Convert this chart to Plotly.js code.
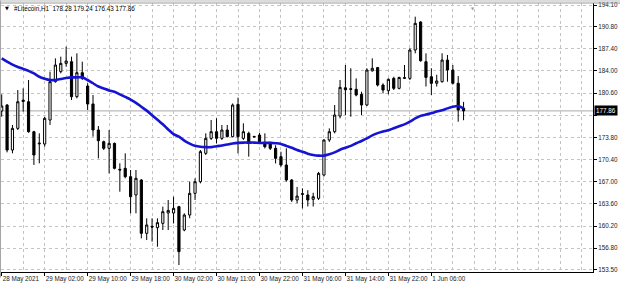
<!DOCTYPE html>
<html><head><meta charset="utf-8">
<script src="https://cdn.plot.ly/plotly-3.0.1.min.js"></script>
<style>html,body{margin:0;padding:0;background:#fff;overflow:hidden}#chart{width:620px;height:287px}</style>
</head><body><div id="chart"></div>
<script>
const symbol = '#Litecoin,H1';
const headerOHLC = [178.28, 179.24, 176.43, 177.86];
const lastPrice = 177.86;

const open = [177.84,178.76,171.86,175.18,179.30,179.27,174.67,172.80,172.78,176.46,
  182.34,183.88,185.15,185.41,180.04,183.72,181.68,178.92,174.93,173.14,
  172.12,172.88,168.90,169.05,167.77,164.96,167.26,159.08,160.15,159.95,
  160.61,162.20,162.20,163.17,159.59,161.89,165.21,167.00,171.35,173.65,
  174.67,173.65,174.93,173.91,178.86,173.65,174.42,173.95,174.16,172.98,
  172.98,172.12,170.84,169.56,167.26,164.19,165.05,164.96,164.30,164.45,
  168.02,173.40,174.67,177.07,181.40,181.15,181.17,180.40,178.76,184.00,
  184.50,181.83,180.96,182.85,181.32,182.85,182.85,187.20,191.50,185.41,
  183.10,182.10,182.34,185.66,184.13,182.10,178.28];
const high = [180.40,178.90,175.70,181.06,181.32,182.60,174.80,174.42,176.97,183.88,
  185.92,186.18,187.71,186.18,186.69,185.41,182.09,180.30,175.54,173.30,
  174.93,173.00,169.82,171.35,168.79,168.79,167.40,161.38,161.38,161.38,
  163.17,164.19,164.70,163.30,162.15,167.00,167.52,171.86,174.42,176.46,
  176.72,175.70,175.70,179.00,179.89,175.95,174.67,174.00,174.50,174.42,
  173.14,172.60,171.60,172.12,167.40,166.20,165.98,165.70,165.30,168.50,
  173.50,175.18,178.76,182.60,184.90,184.40,182.85,180.80,184.40,185.92,
  184.60,182.09,182.85,183.10,183.10,184.90,187.45,192.31,191.60,186.69,
  184.40,183.40,186.69,186.43,184.90,183.20,179.24];
const low = [176.97,171.50,171.35,174.93,177.74,174.50,169.56,169.82,172.37,175.70,
  182.20,183.62,184.64,179.53,179.78,182.60,178.00,173.91,170.58,171.86,
  168.28,168.90,165.47,167.52,162.15,162.15,158.31,158.06,157.80,157.03,
  159.59,159.59,160.60,154.22,159.40,161.40,164.19,166.75,171.10,173.40,
  172.88,173.40,173.80,173.80,171.35,173.40,170.84,173.80,172.88,172.10,
  171.86,169.80,169.30,167.00,163.90,163.70,162.90,163.20,163.20,164.20,
  167.80,173.10,174.42,176.72,177.23,176.97,180.10,177.23,178.60,183.90,
  181.60,180.55,180.40,181.06,181.17,182.75,182.60,186.69,185.40,181.60,
  180.30,181.60,182.20,182.34,181.90,176.20,176.43];
const close = [178.61,171.86,175.18,179.27,179.50,174.67,171.09,172.90,176.72,182.34,
  184.90,185.15,185.51,180.04,183.72,182.85,178.92,174.93,173.29,172.12,
  172.88,169.05,168.80,167.77,164.70,167.52,159.08,160.36,160.05,160.72,
  162.40,162.60,162.91,156.27,161.89,165.21,167.00,171.61,173.65,174.67,
  173.65,174.93,173.91,178.76,173.91,174.67,172.88,173.88,173.14,172.37,
  172.12,170.58,169.56,167.26,164.19,164.80,165.15,164.19,164.70,168.28,
  173.40,174.67,177.23,181.47,181.10,181.25,180.30,178.76,184.13,184.40,
  181.83,181.06,182.70,181.32,182.99,182.95,187.20,191.29,185.56,183.00,
  182.09,182.45,185.66,184.13,182.10,178.00,177.86];
const movingAverage = [185.9,185.4,184.95,184.6,184.3,184.0,183.6,183.1,182.8,182.6,
  182.6,182.75,182.9,183.0,183.0,183.0,182.6,182.1,181.6,181.3,
  181.0,180.8,180.4,180.0,179.6,179.1,178.5,177.9,177.2,176.5,
  175.8,175.0,174.3,173.9,173.3,172.85,172.5,172.35,172.3,172.3,
  172.45,172.55,172.7,172.85,172.95,173.0,173.0,173.0,172.95,172.95,
  172.95,172.9,172.8,172.5,172.2,171.85,171.6,171.3,171.1,171.0,
  171.0,171.2,171.5,171.9,172.2,172.5,172.9,173.25,173.65,174.1,
  174.45,174.7,174.9,175.2,175.5,175.8,176.2,176.7,177.1,177.3,
  177.5,177.75,177.95,178.25,178.5,178.6,178.25];
const tickBars = [0,8,16,24,32,40,48,56,64,72,80];
const tickLabels = ['28 May 2021','29 May 02:00','29 May 10:00','29 May 18:00','30 May 02:00',
  '30 May 11:00','30 May 22:00','31 May 06:00','31 May 14:00','31 May 22:00','1 Jun 06:00'];
const priceTicks = [153.5,156.8,160.2,163.6,167.0,170.4,173.8,177.2,180.6,184.0,187.4,190.8,194.1];

const bars = open.map((_, i) => i);
const FONT = 'Liberation Sans, Arial, sans-serif';
const gridColor = '#c4c4c4';

const traces = [
  {
    type: 'candlestick', x: bars, open: open, high: high, low: low, close: close,
    increasing: {line: {color: '#000', width: 1}, fillcolor: '#fff'},
    decreasing: {line: {color: '#000', width: 1}, fillcolor: '#000'},
    whiskerwidth: 0, hoverinfo: 'skip'
  },
  {
    type: 'scatter', mode: 'lines', x: bars, y: movingAverage,
    line: {color: '#1414d2', width: 2.6, shape: 'spline', smoothing: 0.8},
    hoverinfo: 'skip'
  }
];

const layout = {
  width: 620, height: 287,
  margin: {l: 1, r: 27, t: 3, b: 15, pad: 0},
  paper_bgcolor: '#fff', plot_bgcolor: '#fff',
  showlegend: false, hovermode: false, boxgap: 0.42,
  font: {family: FONT, size: 6.3, color: '#222'},
  xaxis: {
    range: [-0.13, 110.1], rangeslider: {visible: false},
    tickmode: 'array', tickvals: tickBars, ticktext: tickLabels,
    tickangle: 0, automargin: false,
    ticklabelposition: 'outside right',
    ticks: 'outside', ticklen: 3, tickcolor: '#000', tickwidth: 1,
    showgrid: true, gridcolor: gridColor, griddash: 'dot', gridwidth: 1,
    minor: {tick0: 0, dtick: 4, showgrid: true, gridcolor: gridColor, griddash: 'dot', gridwidth: 1, ticks: ''},
    showline: true, linecolor: '#000', linewidth: 1, zeroline: false,
    tickfont: {family: FONT, size: 6.3, color: '#222'}
  },
  yaxis: {
    side: 'right', range: [153.15, 194.41], automargin: false,
    tickmode: 'array', tickvals: priceTicks,
    ticktext: priceTicks.map(v => v === 177.2 ? '' : v.toFixed(2)),
    ticks: 'outside', ticklen: 3, tickcolor: '#000', tickwidth: 1,
    showgrid: true, gridcolor: gridColor, griddash: 'dot', gridwidth: 1,
    showline: true, linecolor: '#000', linewidth: 1, zeroline: false,
    tickfont: {family: FONT, size: 6.3, color: '#222'}
  },
  shapes: [
    {type: 'line', xref: 'paper', yref: 'y', x0: 0, x1: 1, y0: lastPrice, y1: lastPrice,
     line: {color: '#a8a8a8', width: 1}, layer: 'below'},
    {type: 'line', xref: 'paper', yref: 'paper', x0: -0.0017, x1: -0.0017, y0: -0.02, y1: 1.01,
     line: {color: '#888', width: 1.5}},
    {type: 'line', xref: 'paper', yref: 'paper', x0: -0.01, x1: 1.05, y0: 1.0, y1: 1.0,
     line: {color: '#999', width: 1}},
    {type: 'line', xref: 'paper', yref: 'paper', x0: -0.01, x1: 1.05, y0: 1.0075, y1: 1.0075,
     line: {color: '#bbb', width: 1}}
  ],
  annotations: [
    {xref: 'paper', yref: 'paper', x: 0.004, y: 0.981, xanchor: 'left', yanchor: 'middle',
     showarrow: false, text: '▼', font: {family: 'DejaVu Sans', size: 5, color: '#000'}},
    {xref: 'paper', yref: 'paper', x: 0.0186, y: 0.981, xanchor: 'left', yanchor: 'middle',
     showarrow: false, text: symbol + '  ' + headerOHLC.map(v => v.toFixed(2)).join(' '),
     font: {family: FONT, size: 6.3, color: '#000'}},
    {xref: 'paper', yref: 'y', x: 1.0015, y: lastPrice, xanchor: 'left', yanchor: 'middle',
     showarrow: false, text: lastPrice.toFixed(2), bgcolor: '#000', borderpad: 1,
     font: {family: FONT, size: 6.3, color: '#fff'}},
    {xref: 'paper', yref: 'paper', x: 0.797, y: 0.995, xanchor: 'center', yanchor: 'top',
     showarrow: false, text: '▼', font: {family: 'DejaVu Sans', size: 4, color: '#999'}}
  ]
};

Plotly.newPlot('chart', traces, layout, {staticPlot: true, displayModeBar: false});
</script>
</body></html>
